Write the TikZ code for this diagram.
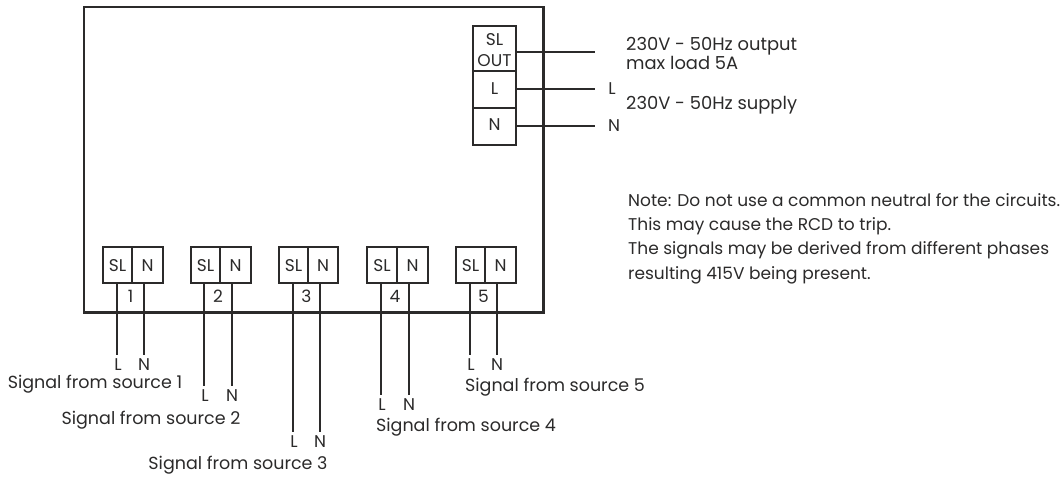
\documentclass[tikz,border=0pt]{standalone}
\usepackage{fontspec}
\setmainfont{Poppins}
\definecolor{ink}{HTML}{2B2A2A}
\tikzset{
  px/.style={x=1pt,y=-1pt},
  frame/.style={draw=ink,line width=2.4pt,line join=miter},
  term/.style={draw=ink,line width=1.4pt},
  wire/.style={draw=ink,line width=1.4pt},
  lab/.style={text=ink,font=\fontsize{17}{17}\selectfont,inner sep=0pt},
  txt/.style={text=ink,font=\fontsize{17.9}{19}\selectfont,inner sep=0pt,anchor=west,align=left},
  nt/.style={text=ink,font=\fontsize{17}{24.3}\selectfont,inner sep=0pt,anchor=west,align=left},
  sig/.style={text=ink,font=\fontsize{17.5}{18}\selectfont,inner sep=0pt},
}
\begin{document}
\begin{tikzpicture}[px]
\useasboundingbox (0,0) rectangle (1063,477);
\coordinate (fa) at (84,7);
\coordinate (fb) at (543.5,312.5);
\draw[frame] (fa) rectangle (fb);
% top right terminal
\coordinate (ta) at (473,26);
\coordinate (tb) at (516,145);
\draw[term,fill=white] (ta) rectangle (tb);
\coordinate (d1l) at (473,71); \coordinate (d1r) at (516,71);
\coordinate (d2l) at (473,108); \coordinate (d2r) at (516,108);
\draw[term] (d1l) -- (d1r);
\draw[term] (d2l) -- (d2r);
\node[lab] (tsl) at (494.5,40) {SL};
\node[lab] (tout) at (494.5,60.5) {OUT};
\node[lab] (tl) at (494.5,89) {L};
\node[lab] (tn) at (494.5,125) {N};
\coordinate (w1a) at (516,52); \coordinate (w1b) at (595,52);
\coordinate (w2a) at (516,89); \coordinate (w2b) at (595,89);
\coordinate (w3a) at (516,126); \coordinate (w3b) at (595,126);
\draw[wire] (w1a) -- (w1b);
\draw[wire] (w2a) -- (w2b);
\draw[wire] (w3a) -- (w3b);
\node[lab] (ol) at (612,88.5) {L};
\node[lab] (on) at (614,126) {N};
\node[txt] (t230a) at (626,53) {230V - 50Hz output\\max load 5A};
\node[txt] (t230b) at (626,105.5) {230V - 50Hz supply};
\node[nt] (note) at (628,238.5) {Note: Do not use a common neutral for the circuits.\\This may cause the RCD to trip.\\The signals may be derived from different phases\\resulting 415V being present.};
% bottom terminals: #/left/mid/right/wireL/wireN/wireEnd/labelx/labely
\foreach \n/\l/\m/\r/\wl/\wn/\e/\sx/\sy in {
 1/103/132/163/117/144/355/95/384,
 2/191/220/251/204/232/386/151/420,
 3/279/308/338/293/320/432/238/465,
 4/367/397/428/381/409/395/466/427,
 5/456/485/516/470/497/355/555/387}{
  \coordinate (ba\n) at (\l,247);
  \coordinate (bb\n) at (\r,283);
  \draw[term,fill=white] (ba\n) rectangle (bb\n);
  \coordinate (bd\n a) at (\m,247);
  \coordinate (bd\n b) at (\m,283);
  \draw[term] (bd\n a) -- (bd\n b);
  \node[lab] at ({(\l+\m)/2},266) {SL};
  \node[lab] at ({(\m+\r)/2},266) {N};
  \node[lab] at ({(\wl+\wn)/2},296) {\n};
  \coordinate (wl\n a) at (\wl,283); \coordinate (wl\n b) at (\wl,\e);
  \coordinate (wn\n a) at (\wn,283); \coordinate (wn\n b) at (\wn,\e);
  \draw[wire] (wl\n a) -- (wl\n b);
  \draw[wire] (wn\n a) -- (wn\n b);
  \node[lab] at (\wl+1,\e+10) {L};
  \node[lab] at (\wn,\e+10) {N};
  \node[sig] at (\sx,\sy) {Signal from source \n};
}
\end{tikzpicture}
\end{document}
